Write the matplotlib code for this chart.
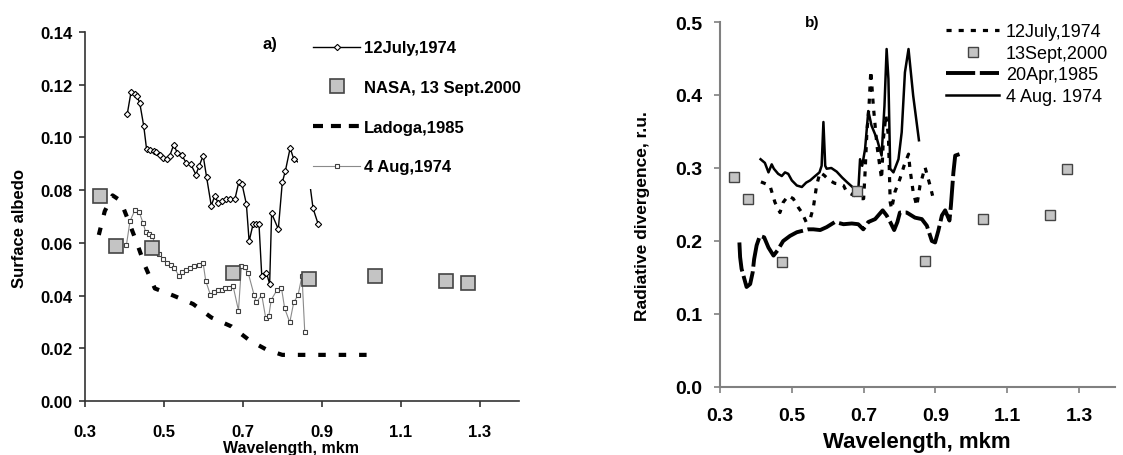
import matplotlib
matplotlib.use('Agg')
import matplotlib.pyplot as plt
from matplotlib.lines import Line2D

plt.rcParams['font.family'] = ['Liberation Sans', 'DejaVu Sans']

# ---------------- Panel a data ----------------
wl_jul74 = [0.407, 0.4165, 0.4266, 0.4316, 0.439, 0.449, 0.456, 0.466, 0.475, 0.481, 0.490, 0.498,
            0.507, 0.515, 0.525, 0.534, 0.545, 0.557, 0.568, 0.581, 0.589, 0.5995, 0.608, 0.620,
            0.629, 0.6375, 0.648, 0.657, 0.667, 0.680, 0.690, 0.698, 0.709, 0.716, 0.726, 0.734,
            0.741, 0.748, 0.760, 0.768, 0.773, 0.790, 0.800, 0.808, 0.820, 0.829, 0.865, 0.878, 0.891]
alb_jul74 = [0.1088, 0.1171, 0.1165, 0.1158, 0.1129, 0.1042, 0.0956, 0.0952, 0.0947, 0.0946, 0.0933, 0.0922,
             0.0918, 0.0931, 0.0973, 0.0941, 0.0934, 0.0902, 0.0899, 0.0859, 0.0890, 0.0931, 0.0851, 0.0741,
             0.0779, 0.0751, 0.0760, 0.0766, 0.0766, 0.0766, 0.0832, 0.0823, 0.0747, 0.0606, 0.0671, 0.0671,
             0.0671, 0.0475, 0.0486, 0.0444, 0.0712, 0.0652, 0.0829, 0.0874, 0.0960, 0.0918, 0.0880, 0.0731, 0.0671]

wl_nasa = [0.338, 0.378, 0.469, 0.6755, 0.867, 1.034, 1.215, 1.27]
alb_nasa = [0.0776, 0.0589, 0.0579, 0.0484, 0.0463, 0.0475, 0.0454, 0.0446]

wl_ladoga = [0.335, 0.35, 0.37, 0.39, 0.41, 0.431, 0.452, 0.477, 0.524, 0.574, 0.62, 0.671, 0.718,
             0.76, 0.80, 0.85, 0.95, 1.03]
alb_ladoga = [0.0630, 0.0720, 0.0780, 0.0760, 0.0684, 0.0602, 0.0513, 0.0427, 0.0400, 0.0368, 0.0317,
              0.0283, 0.0229, 0.0195, 0.0175, 0.0175, 0.0175, 0.0175]

wl_aug74 = [0.405, 0.414, 0.4266, 0.4375, 0.4475, 0.454, 0.4625, 0.471, 0.477, 0.488, 0.498, 0.508,
            0.5175, 0.526, 0.538, 0.547, 0.557, 0.566, 0.576, 0.588, 0.5995, 0.606, 0.618, 0.6266,
            0.636, 0.646, 0.656, 0.6655, 0.6755, 0.689, 0.6965, 0.705, 0.714, 0.7286, 0.734, 0.748,
            0.758, 0.766, 0.772, 0.787, 0.798, 0.806, 0.819, 0.829, 0.840, 0.850, 0.857]
alb_aug74 = [0.0592, 0.0682, 0.0725, 0.0716, 0.0674, 0.0640, 0.0634, 0.0627, 0.0593, 0.0558, 0.0539, 0.0524,
             0.0516, 0.0506, 0.0475, 0.0488, 0.0497, 0.0503, 0.0513, 0.0516, 0.0522, 0.0456, 0.0402, 0.0412,
             0.0421, 0.0421, 0.0429, 0.0429, 0.0435, 0.0343, 0.0513, 0.0507, 0.0484, 0.0402, 0.0374, 0.0402,
             0.0315, 0.0324, 0.0384, 0.0422, 0.0429, 0.0352, 0.0298, 0.0374, 0.0402, 0.0475, 0.0261]

labels_a = ['12July,1974', 'NASA, 13 Sept.2000', 'Ladoga,1985', '4 Aug,1974']

# ---------------- Panel b data ----------------
wb_jul74 = [0.414, 0.439, 0.453, 0.467, 0.476, 0.490, 0.504, 0.518, 0.528, 0.540, 0.551, 0.560, 0.569,
            0.5785, 0.590, 0.605, 0.620, 0.635, 0.644, 0.653, 0.676, 0.690, 0.700, 0.704, 0.709, 0.715,
            0.720, 0.727, 0.737, 0.746, 0.750, 0.755, 0.762, 0.769, 0.774, 0.778, 0.787, 0.801, 0.8125,
            0.825, 0.829, 0.838, 0.848, 0.857, 0.871, 0.885, 0.892]
div_jul74 = [0.281, 0.276, 0.253, 0.239, 0.253, 0.262, 0.258, 0.246, 0.239, 0.226, 0.230, 0.246, 0.276,
             0.294, 0.290, 0.283, 0.279, 0.278, 0.276, 0.267, 0.262, 0.258, 0.258, 0.294, 0.349, 0.385,
             0.433, 0.385, 0.331, 0.299, 0.285, 0.340, 0.372, 0.344, 0.253, 0.244, 0.267, 0.285, 0.303,
             0.319, 0.299, 0.267, 0.248, 0.276, 0.301, 0.276, 0.262]

wb_sep00 = [0.339, 0.379, 0.473, 0.681, 0.871, 1.032, 1.219, 1.267]
div_sep00 = [0.287, 0.257, 0.171, 0.269, 0.172, 0.230, 0.236, 0.298]

wb_apr85 = [0.354, 0.356, 0.36, 0.374, 0.384, 0.391, 0.395, 0.402, 0.411, 0.423, 0.435, 0.449, 0.46,
            0.476, 0.495, 0.514, 0.530, 0.546, 0.56, 0.579, 0.597, 0.62, 0.644, 0.667, 0.685, 0.699,
            0.713, 0.732, 0.753, 0.764, 0.774, 0.785, 0.794, 0.801, 0.82, 0.843, 0.862, 0.876, 0.89,
            0.899, 0.908, 0.918, 0.927, 0.939, 0.943, 0.95, 0.955, 0.967]
div_apr85 = [0.198, 0.178, 0.162, 0.137, 0.141, 0.157, 0.175, 0.194, 0.207, 0.205, 0.191, 0.180, 0.187,
             0.200, 0.207, 0.212, 0.214, 0.216, 0.216, 0.215, 0.219, 0.226, 0.223, 0.224, 0.223, 0.216,
             0.226, 0.230, 0.242, 0.235, 0.226, 0.215, 0.226, 0.239, 0.239, 0.232, 0.230, 0.221, 0.200,
             0.198, 0.214, 0.235, 0.242, 0.228, 0.248, 0.294, 0.317, 0.319]

wb_aug74 = [0.413, 0.425, 0.435, 0.444, 0.450, 0.462, 0.472, 0.481, 0.490, 0.500, 0.514, 0.528, 0.540,
            0.551, 0.565, 0.577, 0.583, 0.588, 0.593, 0.597, 0.610, 0.625, 0.640, 0.655, 0.671, 0.685,
            0.690, 0.696, 0.704, 0.713, 0.722, 0.737, 0.750, 0.758, 0.764, 0.769, 0.774, 0.783, 0.797,
            0.806, 0.815, 0.825, 0.838, 0.854]
div_aug74 = [0.312, 0.307, 0.294, 0.305, 0.299, 0.292, 0.289, 0.294, 0.292, 0.283, 0.276, 0.274, 0.280,
             0.283, 0.289, 0.294, 0.303, 0.363, 0.303, 0.299, 0.300, 0.295, 0.287, 0.280, 0.273, 0.268,
             0.312, 0.303, 0.326, 0.378, 0.358, 0.340, 0.317, 0.385, 0.463, 0.422, 0.299, 0.294, 0.312,
             0.349, 0.431, 0.463, 0.399, 0.338]

labels_b = ['12July,1974', '13Sept,2000', '20Apr,1985', '4 Aug. 1974']

x_ticks = [0.3, 0.5, 0.7, 0.9, 1.1, 1.3]
x_tick_labels = ['0.3', '0.5', '0.7', '0.9', '1.1', '1.3']
ya_ticks = [0.00, 0.02, 0.04, 0.06, 0.08, 0.10, 0.12, 0.14]
ya_tick_labels = ['0.00', '0.02', '0.04', '0.06', '0.08', '0.10', '0.12', '0.14']
yb_ticks = [0.0, 0.1, 0.2, 0.3, 0.4, 0.5]
yb_tick_labels = ['0.0', '0.1', '0.2', '0.3', '0.4', '0.5']

# ---------------- Figure ----------------
W, H = 1123, 456
fig = plt.figure(figsize=(W / 100, H / 100), dpi=100)


def box(l, t, r, b):
    return [l / W, 1 - b / H, (r - l) / W, (b - t) / H]


axa = fig.add_axes(box(85, 33, 519, 402))
axb = fig.add_axes(box(720, 23, 1115, 388))

# ----- panel a -----
la1, = axa.plot(wl_jul74, alb_jul74, color='black', lw=1.0, marker='D', ms=3.2,
                mfc='white', mec='black', mew=0.8, zorder=3)
la3, = axa.plot(wl_ladoga, alb_ladoga, color='black', lw=3.0, dashes=(1.8, 3.1),
                dash_capstyle='butt', zorder=2)
la4, = axa.plot(wl_aug74, alb_aug74, color='#8a8a8a', lw=0.8, marker='s', ms=3.2,
                mfc='white', mec='#404040', mew=0.8, zorder=3)
la2, = axa.plot(wl_nasa, alb_nasa, ls='none', marker='s', ms=9.5, mfc='#c4c4c4',
                mec='#444444', mew=1.2, zorder=5)

axa.set_xlim(0.3, 1.4)
axa.set_ylim(0, 0.14)
for s in ['top', 'right']:
    axa.spines[s].set_visible(False)
for s in ['left', 'bottom']:
    axa.spines[s].set_color('#333333')
    axa.spines[s].set_linewidth(1.2)
axa.set_xticks(x_ticks, x_tick_labels, fontsize=12, fontweight='bold')
axa.set_yticks(ya_ticks, ya_tick_labels, fontsize=12, fontweight='bold')
axa.tick_params(axis='both', direction='out', length=4.5, width=1.2, color='#333333')
axa.tick_params(axis='x', pad=12)
axa.tick_params(axis='y', pad=4.3)

hL = Line2D([], [], color='black', lw=3.0, dashes=(2.4, 1.9), dash_capstyle='butt')
axa.legend([la1, la2, hL, la4], labels_a, loc='upper left',
           bbox_to_anchor=(290 / W, 1 - 18 / H), bbox_transform=fig.transFigure,
           frameon=True, fancybox=False, edgecolor='none', facecolor='white', framealpha=1,
           borderpad=0.9, labelspacing=1.48, handlelength=2.8, handletextpad=0.25,
           numpoints=1, prop={'size': 12, 'weight': 'bold'})

fig.text(20 / W, 1 - 228 / H, 'Surface albedo', rotation=90, ha='center', va='center',
         fontsize=12, fontweight='bold')
fig.text(291 / W, 1 - 449 / H, 'Wavelength, mkm', ha='center', va='center',
         fontsize=11.5, fontweight='bold')
fig.text(270 / W, 1 - 44 / H, 'a)', ha='center', va='center', fontsize=12, fontweight='bold')

# ----- panel b -----
lb1, = axb.plot(wb_jul74, div_jul74, color='black', lw=2.3, dashes=(1.6, 2.2),
                dash_capstyle='butt', zorder=3)
lb3, = axb.plot(wb_apr85, div_apr85, color='black', lw=2.8, dashes=(7.5, 1.2),
                dash_capstyle='butt', zorder=2)
lb4, = axb.plot(wb_aug74, div_aug74, color='black', lw=1.8, zorder=3)
lb2, = axb.plot(wb_sep00, div_sep00, ls='none', marker='s', ms=7, mfc='#c4c4c4',
                mec='#444444', mew=1.0, zorder=5)

axb.set_xlim(0.3, 1.4)
axb.set_ylim(0, 0.5)
for s in ['top', 'right']:
    axb.spines[s].set_visible(False)
for s in ['left', 'bottom']:
    axb.spines[s].set_color('#808080')
    axb.spines[s].set_linewidth(1.5)
axb.set_xticks(x_ticks, x_tick_labels, fontsize=14, fontweight='bold')
axb.set_yticks(yb_ticks, yb_tick_labels, fontsize=14, fontweight='bold')
axb.tick_params(axis='both', direction='out', length=4, width=1.2, color='#808080')
axb.tick_params(axis='x', pad=10.5)
axb.tick_params(axis='y', pad=8.5)

axb.legend([lb1, lb2, lb3, lb4], labels_b, loc='upper left',
           bbox_to_anchor=(932 / W, 1 - 10 / H), bbox_transform=fig.transFigure,
           frameon=False, borderpad=0.3, labelspacing=0.25, handlelength=2.9,
           handletextpad=0.4, numpoints=1, prop={'size': 13})

fig.text(643 / W, 1 - 216 / H, 'Radiative divergence, r.u.', rotation=90, ha='center',
         va='center', fontsize=12.5, fontweight='bold')
fig.text(917 / W, 1 - 443 / H, 'Wavelength, mkm', ha='center', va='center',
         fontsize=16, fontweight='bold')
fig.text(812 / W, 1 - 23 / H, 'b)', ha='center', va='center', fontsize=11, fontweight='bold')

fig.savefig('out.png', dpi=100)
